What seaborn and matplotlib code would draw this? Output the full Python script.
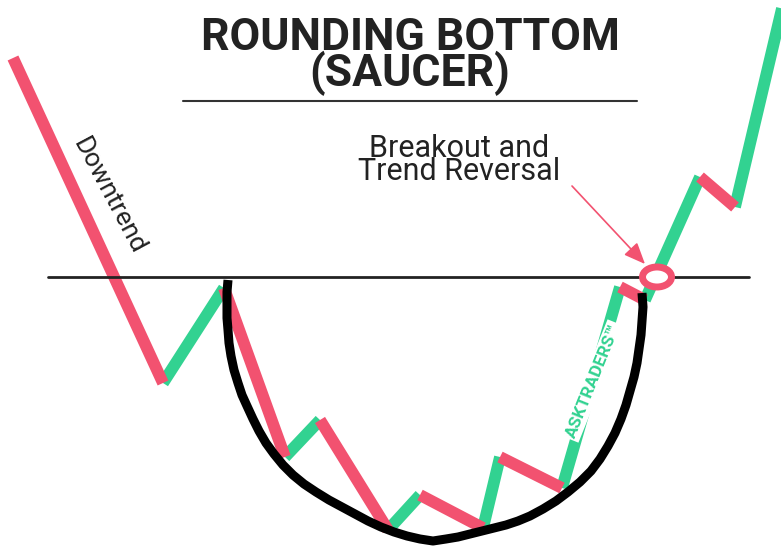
import numpy as np
import pandas as pd
import seaborn as sns
import matplotlib.pyplot as plt
from matplotlib.patches import Ellipse

# price path vertices (pixel-like units, y grows downward)
price_x = [13, 163, 224, 285, 320, 388, 420, 483, 500, 562, 620, 645, 700, 735, 784]
price_y = [58, 383, 288, 457, 420, 530, 495, 528, 457, 488, 287, 300, 177, 207, 0]

# the saucer curve, read along its length
curve_x = [228, 227, 227, 227, 228, 229, 231, 234, 238, 242, 247, 253, 259, 266,
           274, 283, 293, 304, 316, 329, 342, 355, 368, 381, 394, 407, 420, 433,
           446, 458, 470, 482, 494, 506, 518, 530, 543, 556, 568, 580, 591, 600,
           608, 615, 621, 626, 630, 634, 637, 639, 641, 642, 643, 642]
curve_y = [280, 292, 305, 318, 330, 343, 356, 370, 383, 395, 406, 419, 431, 443,
           454, 465, 475, 484, 492, 500, 507, 514, 521, 527, 532, 536, 539, 541,
           539, 537, 534, 531, 528, 525, 521, 516, 509, 501, 492, 482, 471, 459,
           446, 433, 419, 405, 391, 377, 363, 349, 335, 321, 307, 293]

neckline_x = [48, 749]
neckline_y = [277, 277]
breakout = (657, 277)

RED = '#F25270'
GREEN = '#32D291'
INK = '#222222'

rows = []
for i in range(len(price_x) - 1):
    d = 'down' if price_y[i + 1] > price_y[i] else 'up'
    rows.append({'seg': i, 'x': price_x[i], 'y': price_y[i], 'dir': d})
    rows.append({'seg': i, 'x': price_x[i + 1], 'y': price_y[i + 1], 'dir': d})
df = pd.DataFrame(rows)

sns.set_style("white")
fig = plt.figure(figsize=(7.81, 5.52), dpi=100)
ax = fig.add_axes([0, 0, 1, 1])

sns.lineplot(data=df, x='x', y='y', units='seg', hue='dir', hue_order=['up', 'down'],
             palette={'up': GREEN, 'down': RED}, estimator=None, sort=False,
             linewidth=8.5, solid_capstyle='butt', legend=False, ax=ax, zorder=2)
sns.lineplot(x=curve_x, y=curve_y, sort=False, estimator=None, color='black',
             linewidth=6.5, solid_capstyle='butt', solid_joinstyle='round', ax=ax, zorder=3)
sns.lineplot(x=neckline_x, y=neckline_y, color=INK, linewidth=2, estimator=None, ax=ax, zorder=4)

ring = Ellipse(breakout, width=29, height=20, facecolor='white', edgecolor=RED,
               linewidth=5, zorder=6)
ax.add_patch(ring)

# title (va='baseline' sits on the last line)
ax.text(410, 86, 'ROUNDING BOTTOM\n(SAUCER)', ha='center', va='baseline',
        multialignment='center', linespacing=0.76, fontsize=32,
        fontweight='bold', family='Roboto', color=INK)
ax.plot([183, 637], [101, 101], color='#333333', linewidth=1.5)

ax.text(459, 180, 'Breakout and\nTrend Reversal', ha='center', va='baseline',
        multialignment='center', linespacing=0.76, fontsize=22,
        family='Roboto', color=INK)
ax.annotate('', xy=(645, 264), xytext=(572, 186),
            arrowprops=dict(arrowstyle='-|>,head_length=1.3,head_width=0.55',
                            color=RED, linewidth=1.2, shrinkA=0, shrinkB=0),
            zorder=5)

ax.text(109, 196, 'Downtrend', ha='center', va='center', rotation=-62,
        rotation_mode='anchor', fontsize=19, family='Roboto', color=INK)
ax.text(593, 381, 'ASKTRADERS™', ha='center', va='center', rotation=68,
        rotation_mode='anchor', fontsize=12.5, fontweight='bold',
        family=['Roboto', 'DejaVu Sans'], color=GREEN, zorder=7,
        bbox=dict(facecolor='white', edgecolor='none', pad=1.5))

ax.set_xlim(0, 781)
ax.set_ylim(552, 0)
ax.axis('off')

plt.savefig('out.png', dpi=100)
